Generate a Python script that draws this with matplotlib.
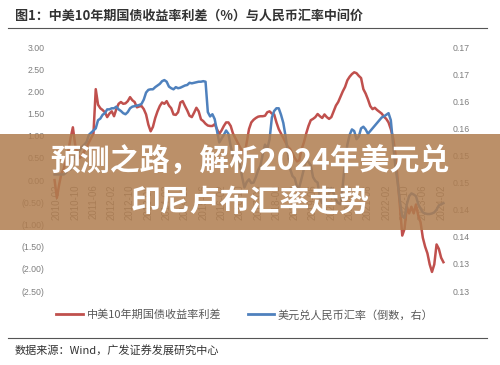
import matplotlib
matplotlib.use('Agg')
import matplotlib.pyplot as plt
import numpy as np
from matplotlib.patches import Rectangle
from matplotlib.lines import Line2D

# 中美10年期国债收益率利差（%），月度，2010-01 ~ 2024-03
spread = [
    0.0, -0.4, -0.1, 0.15, 0.25, 0.45, 0.65, 0.95, 1.19, 0.8,
    0.6, 0.5, 0.55, 0.65, 0.75, 0.85, 0.95, 1.05, 2.05, 1.7,
    1.62, 1.58, 1.53, 1.42, 1.5, 1.55, 1.44, 1.6, 1.72, 1.76,
    1.72, 1.73, 1.78, 1.87, 1.8, 1.76, 1.64, 1.66, 1.67, 1.6,
    1.48, 1.25, 1.1, 1.2, 1.4, 1.55, 1.67, 1.75, 1.72, 1.78,
    1.68, 1.62, 1.48, 1.47, 1.53, 1.75, 1.78, 1.67, 1.57, 1.45,
    1.42, 1.52, 1.63, 1.55, 1.37, 1.33, 1.27, 1.23, 1.22, 1.22,
    1.26, 1.15, 1.04, 1.12, 1.22, 1.3, 1.3, 1.22, 1.05, 0.95,
    0.85, 0.75, 0.65, 0.55, 0.85, 1.15, 1.3, 1.36, 1.4, 1.43,
    1.44, 1.44, 1.45, 1.53, 1.55, 1.5, 1.48, 1.3, 1.15, 1.05,
    0.95, 0.85, 0.75, 0.7, 0.6, 0.5, 0.42, 0.45, 0.7, 0.85,
    1.05, 1.22, 1.35, 1.38, 1.42, 1.49, 1.44, 1.4, 1.48, 1.42,
    1.38, 1.42, 1.55, 1.68, 1.76, 1.88, 2.0, 2.1, 2.25, 2.33,
    2.39, 2.43, 2.41, 2.35, 2.3, 2.05, 1.95, 1.82, 1.67, 1.6,
    1.63, 1.58, 1.54, 1.5, 1.43, 1.38, 1.3, 1.15, 0.95, 0.6,
    0.0, -0.6, -1.25, -1.1, -0.6, -0.75, -0.6, -0.75, -0.55, -0.8,
    -0.95, -1.3, -1.5, -1.65, -1.9, -2.07, -1.9, -1.45, -1.55, -1.75,
    -1.85]

# 美元兑人民币汇率（倒数）
fx_inv = [
    0.1465, 0.1465, 0.1465, 0.1465, 0.1465, 0.1468, 0.1476, 0.1474, 0.1490, 0.1500,
    0.1503, 0.1510, 0.1516, 0.1520, 0.1525, 0.1538, 0.1542, 0.1546, 0.1550, 0.1565,
    0.1568, 0.1575, 0.1578, 0.1585, 0.1585, 0.1587, 0.1587, 0.1590, 0.1585, 0.1582,
    0.1578, 0.1576, 0.1580, 0.1587, 0.1590, 0.1591, 0.1592, 0.1593, 0.1595, 0.1603,
    0.1616, 0.1621, 0.1622, 0.1622, 0.1626, 0.1629, 0.1632, 0.1637, 0.1639, 0.1636,
    0.1627, 0.1624, 0.1622, 0.1626, 0.1624, 0.1625, 0.1627, 0.1629, 0.1630, 0.1634,
    0.1633, 0.1634, 0.1635, 0.1636, 0.1636, 0.1637, 0.1636, 0.1580, 0.1572, 0.1576,
    0.1567, 0.1546, 0.1524, 0.1531, 0.1538, 0.1546, 0.1540, 0.1517, 0.1499, 0.1502,
    0.1499, 0.1484, 0.1460, 0.1441, 0.1451, 0.1456, 0.1449, 0.1450, 0.1460, 0.1473,
    0.1481, 0.1502, 0.1520, 0.1512, 0.1530, 0.1570, 0.1582, 0.1587, 0.1587, 0.1575,
    0.1560, 0.1535, 0.1505, 0.1475, 0.1462, 0.1458, 0.1442, 0.1442, 0.1458, 0.1475,
    0.1492, 0.1488, 0.1482, 0.1460, 0.1453, 0.1450, 0.1422, 0.1412, 0.1415, 0.1425,
    0.1430, 0.1440, 0.1430, 0.1418, 0.1412, 0.1410, 0.1445, 0.1490, 0.1520, 0.1538,
    0.1548, 0.1545, 0.1530, 0.1535, 0.1550, 0.1553, 0.1548, 0.1540, 0.1545, 0.1550,
    0.1555, 0.1560, 0.1565, 0.1570, 0.1572, 0.1575, 0.1578, 0.1565, 0.1520, 0.1480,
    0.1450, 0.1415, 0.1388, 0.1385, 0.1410, 0.1425, 0.1430, 0.1428, 0.1425, 0.1410,
    0.1402, 0.1395, 0.1393, 0.1392, 0.1392, 0.1393, 0.1395, 0.1400, 0.1408, 0.1410,
    0.1412]

date_labels = ['2010-02', '2010-10', '2011-06', '2012-02', '2012-10', '2013-06',
               '2014-02', '2014-10', '2015-06', '2016-02', '2016-10', '2017-06',
               '2018-02', '2018-10', '2019-06', '2020-02', '2020-10', '2021-06',
               '2022-02', '2022-10', '2023-06', '2024-02']
date_pos = list(range(1, 170, 8))

left_ticks = [-2.5, -2.0, -1.5, -1.0, -0.5, 0.0, 0.5, 1.0, 1.5, 2.0, 2.5, 3.0]
right_ticks = [0.125, 0.130, 0.135, 0.140, 0.145, 0.150, 0.155, 0.160, 0.165, 0.170]
right_labels = ['0.13', '0.13', '0.14', '0.14', '0.15', '0.15', '0.16', '0.16', '0.17', '0.17']

title = '图1：中美10年期国债收益率利差（%）与人民币汇率中间价'
source = '数据来源：Wind，广发证券发展研究中心'
lab1 = '中美10年期国债收益率利差'
lab2 = '美元兑人民币汇率（倒数，右）'
banner1 = '预测之路，解析2024年美元兑'
banner2 = '印尼卢布汇率走势'

plt.rcParams['font.family'] = ['Noto Sans CJK SC', 'DejaVu Sans']

red = '#C0504D'
blue = '#4F81BD'
tickc = '#7f7f7f'

fig = plt.figure(figsize=(5, 3.65), dpi=100)
fig.patch.set_facecolor('white')
ax = fig.add_axes([0.1, 0.2027, 0.796, 0.6685])
ax2 = ax.twinx()

# spine position first: it resets the ticks
for a in (ax, ax2):
    for s in a.spines.values():
        s.set_color('none')
ax.spines['bottom'].set_position(('data', 0))

x = np.arange(len(spread))
ax.plot(x, spread, color=red, lw=1.8)
ax2.plot(x, fx_inv, color=blue, lw=1.8)

ax.set_xlim(-2, 172)
ax.set_ylim(-2.5, 3.0)
ax2.set_ylim(0.125, 0.170)

ax.set_yticks(left_ticks)
ax.set_yticklabels(['%.2f' % v if v >= 0 else '(%.2f)' % -v for v in left_ticks],
                   family='Liberation Sans', fontsize=6.3, color=tickc)
ax2.set_yticks(right_ticks)
ax2.set_yticklabels(right_labels, family='Liberation Sans', fontsize=6.3, color=tickc)

ax.set_xticks(date_pos)
ax.set_xticklabels(date_labels, rotation=90, family='Liberation Sans', fontsize=7, color=tickc)

ax.tick_params(axis='x', length=0, pad=3)
ax.tick_params(axis='y', length=0, pad=4)
ax2.tick_params(axis='y', length=0, pad=3)

# title and rules
fig.text(0.03, 1 - 16 / 365, title, fontsize=9.4, fontweight='bold', color='#333333', va='center')
fig.add_artist(Line2D([0.016, 0.974], [1 - 28 / 365] * 2, color='#555555', lw=0.8))
fig.add_artist(Line2D([0.016, 0.974], [1 - 338 / 365] * 2, color='#555555', lw=0.8))
fig.text(0.03, 1 - 350 / 365, source, fontsize=8, color='#333333', va='center')

handles = [Line2D([], [], color=red, lw=2), Line2D([], [], color=blue, lw=2)]
fig.legend(handles, [lab1, lab2], loc='center', bbox_to_anchor=(0.49, 1 - 315 / 365),
           ncol=2, frameon=False, fontsize=8, handlelength=2.4, handletextpad=0.3,
           columnspacing=2.4, labelcolor='#595959')

# banner overlay
fig.add_artist(Rectangle((0, 1 - 230 / 365), 1, 96 / 365, transform=fig.transFigure,
                         facecolor='#b07d4f', alpha=0.85, edgecolor='none', zorder=5))
fig.text(0.5, 1 - 162 / 365, banner1, ha='center', va='center', fontsize=21.5,
         fontweight='bold', color='white', zorder=6)
fig.text(0.5, 1 - 202 / 365, banner2, ha='center', va='center', fontsize=21.5,
         fontweight='bold', color='white', zorder=6)

fig.savefig('out.png', dpi=100)
